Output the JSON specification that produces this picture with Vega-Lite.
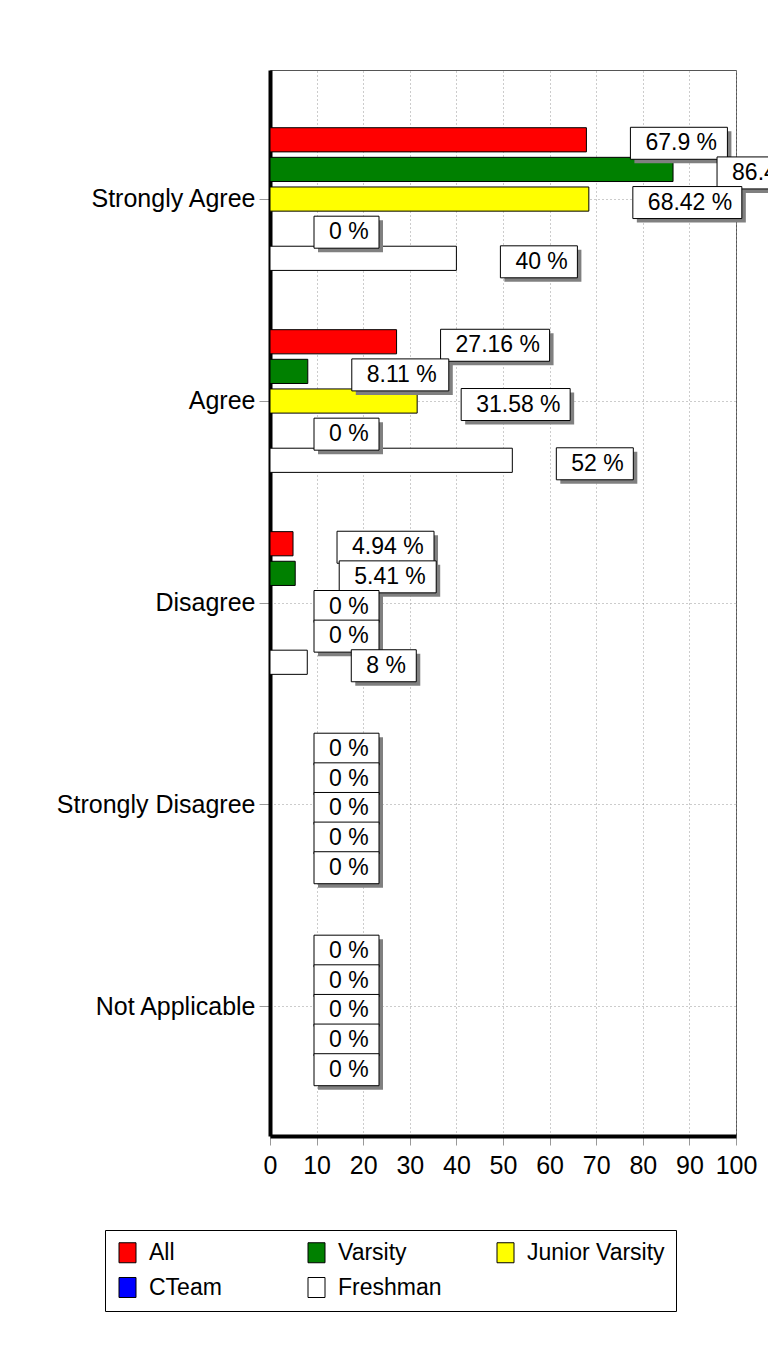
{
  "$schema": "https://vega.github.io/schema/vega-lite/v6.json",
  "autosize": {"type": "none"},
  "width": 466,
  "height": 1066,
  "padding": {"left": 270, "top": 70, "right": 32, "bottom": 230},
  "background": "white",
  "config": {
    "view": {"stroke": "#555555", "strokeWidth": 1},
    "font": "Liberation Sans",
    "text": {"font": "Liberation Sans"}
  },
  "data": {
    "values": [
      {"cat": "Strongly Agree", "series": "All", "value": 67.9},
      {"cat": "Strongly Agree", "series": "Varsity", "value": 86.49},
      {"cat": "Strongly Agree", "series": "Junior Varsity", "value": 68.42},
      {"cat": "Strongly Agree", "series": "CTeam", "value": 0},
      {"cat": "Strongly Agree", "series": "Freshman", "value": 40},
      {"cat": "Agree", "series": "All", "value": 27.16},
      {"cat": "Agree", "series": "Varsity", "value": 8.11},
      {"cat": "Agree", "series": "Junior Varsity", "value": 31.58},
      {"cat": "Agree", "series": "CTeam", "value": 0},
      {"cat": "Agree", "series": "Freshman", "value": 52},
      {"cat": "Disagree", "series": "All", "value": 4.94},
      {"cat": "Disagree", "series": "Varsity", "value": 5.41},
      {"cat": "Disagree", "series": "Junior Varsity", "value": 0},
      {"cat": "Disagree", "series": "CTeam", "value": 0},
      {"cat": "Disagree", "series": "Freshman", "value": 8},
      {"cat": "Strongly Disagree", "series": "All", "value": 0},
      {"cat": "Strongly Disagree", "series": "Varsity", "value": 0},
      {"cat": "Strongly Disagree", "series": "Junior Varsity", "value": 0},
      {"cat": "Strongly Disagree", "series": "CTeam", "value": 0},
      {"cat": "Strongly Disagree", "series": "Freshman", "value": 0},
      {"cat": "Not Applicable", "series": "All", "value": 0},
      {"cat": "Not Applicable", "series": "Varsity", "value": 0},
      {"cat": "Not Applicable", "series": "Junior Varsity", "value": 0},
      {"cat": "Not Applicable", "series": "CTeam", "value": 0},
      {"cat": "Not Applicable", "series": "Freshman", "value": 0}
    ]
  },
  "transform": [
    {"calculate": "datum.value + ' %'", "as": "label"},
    {"calculate": "'w' + length(datum.label)", "as": "labelLen"}
  ],
  "resolve": {"scale": {"shape": "independent"}},
  "encoding": {
    "y": {
      "field": "cat", "type": "nominal",
      "sort": ["Strongly Agree", "Agree", "Disagree", "Strongly Disagree", "Not Applicable"],
      "scale": {"paddingInner": 0, "paddingOuter": 0.139},
      "axis": {
        "title": null, "bandPosition": 0.5, "grid": true, "gridDash": [1, 3], "gridColor": "#999999",
        "tickColor": "#999999", "tickSize": 11, "domainColor": "#000000", "domainWidth": 4,
        "labelFontSize": 25, "labelFont": "Liberation Sans", "labelColor": "#000000", "labelPadding": 4,
        "labelLimit": 400
      }
    },
    "yOffset": {
      "field": "series", "type": "nominal",
      "sort": ["All", "Varsity", "Junior Varsity", "CTeam", "Freshman"],
      "scale": {"paddingInner": 0.184, "paddingOuter": 1.514}
    },
    "x": {
      "field": "value", "type": "quantitative",
      "scale": {"domain": [0, 100], "nice": false},
      "axis": {
        "title": null, "values": [0, 10, 20, 30, 40, 50, 60, 70, 80, 90, 100],
        "labelOverlap": false, "labelFlush": false,
        "grid": true, "gridDash": [1, 3], "gridColor": "#999999",
        "tickColor": "#999999", "tickSize": 9, "domainColor": "#000000", "domainWidth": 4,
        "labelFontSize": 25, "labelFont": "Liberation Sans", "labelColor": "#000000", "labelPadding": 8
      }
    }
  },
  "layer": [
    {
      "mark": {"type": "bar", "stroke": "#000000", "strokeWidth": 1},
      "encoding": {
        "color": {
          "field": "series", "type": "nominal",
          "scale": {
            "domain": ["All", "Varsity", "Junior Varsity", "CTeam", "Freshman"],
            "range": ["#ff0000", "#008000", "#ffff00", "#0000ff", "#ffffff"]
          },
          "legend": {
            "title": null, "orient": "none", "legendX": -165, "legendY": 1160,
            "direction": "horizontal", "columns": 3, "gridAlign": "all", "columnPadding": 18, "rowPadding": 10,
            "padding": 11, "strokeColor": "#000000", "fillColor": "#ffffff",
            "symbolType": "M-0.85,-1H0.85V1H-0.85Z", "symbolSize": 400, "symbolStrokeColor": "#000000",
            "symbolStrokeWidth": 1, "symbolOpacity": 1,
            "labelFontSize": 23, "labelFont": "Liberation Sans", "labelColor": "#000000", "labelOffset": 10
          }
        }
      }
    },
    {
      "mark": {"type": "point", "size": 4, "filled": true, "fill": "#808080", "opacity": 1, "strokeWidth": 0},
      "encoding": {
        "shape": {
          "field": "labelLen", "type": "nominal", "legend": null,
          "scale": {
            "domain": ["w3", "w4", "w6", "w7"],
            "range": ["M48,-8.5H113V23.5H48Z", "M48,-8.5H125V23.5H48Z", "M48,-8.5H145V23.5H48Z", "M48,-8.5H157V23.5H48Z"]
          }
        }
      }
    },
    {
      "mark": {"type": "point", "size": 4, "filled": true, "fill": "#ffffff", "stroke": "#000000", "strokeWidth": 1, "opacity": 1},
      "encoding": {
        "shape": {
          "field": "labelLen", "type": "nominal", "legend": null,
          "scale": {
            "domain": ["w3", "w4", "w6", "w7"],
            "range": ["M44,-12.5H109V19.5H44Z", "M44,-12.5H121V19.5H44Z", "M44,-12.5H141V19.5H44Z", "M44,-12.5H153V19.5H44Z"]
          }
        }
      }
    },
    {
      "mark": {"type": "text", "align": "left", "baseline": "middle", "dx": 59, "dy": 3.5, "fontSize": 23, "font": "Liberation Sans", "color": "#000000"},
      "encoding": {"text": {"field": "label"}}
    }
  ]
}
